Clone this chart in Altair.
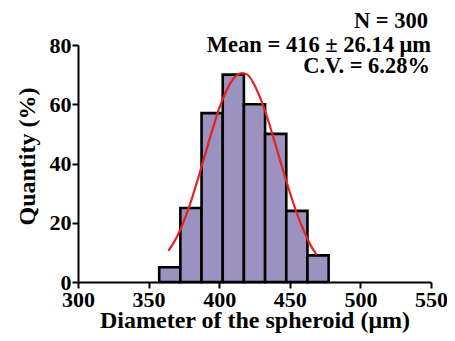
import altair as alt
import pandas as pd

# Histogram bins (centres, µm) and quantities (%)
bin_centers = [365, 380, 395, 410, 425, 440, 455, 470]
quantities = [5, 25, 57, 70, 60, 50, 24, 9]
bin_width = 15

# Fitted normal curve
curve_x = [364, 370, 375, 380, 385, 390, 395, 400, 405, 410, 416, 420, 425, 430, 435, 440, 445, 450, 455, 460, 465, 469]
curve_y = [10.5, 15.2, 20.6, 27.2, 34.9, 43.0, 51.1, 58.6, 64.5, 68.6, 70.5, 70.0, 66.4, 61.0, 54.1, 46.1, 38.1, 30.3, 23.2, 17.2, 12.2, 9.2]

annotations = ["N = 300", "Mean = 416 ± 26.14 μm", "C.V. = 6.28%"]

bars_df = pd.DataFrame({
    "start": [c - bin_width / 2 for c in bin_centers],
    "end": [c + bin_width / 2 for c in bin_centers],
    "q": quantities,
})
curve_df = pd.DataFrame({"x": curve_x, "y": curve_y})

FONT = "Liberation Serif"

xscale = alt.Scale(domain=[300, 550], nice=False)
yscale = alt.Scale(domain=[0, 80], nice=False)

W, H = 353, 237

bars = alt.Chart(bars_df).mark_rect(
    fill="#9b92bf", stroke="black", strokeWidth=2.6
).encode(
    x=alt.X("start:Q", scale=xscale,
            axis=alt.Axis(title="Diameter of the spheroid (μm)", values=[300, 350, 400, 450, 500, 550],
                          grid=False, labelFlush=False, labelPadding=1, titlePadding=-2)),
    x2="end:Q",
    y=alt.Y("q:Q", scale=yscale,
            axis=alt.Axis(title="Quantity (%)", values=[0, 20, 40, 60, 80], grid=False, labelFlush=False,
                          labelPadding=1, titlePadding=10, titleY=111)),
    y2=alt.datum(0),
)

curve = alt.Chart(curve_df).mark_line(
    color="#e8231f", strokeWidth=2.2, interpolate="monotone"
).encode(x="x:Q", y="y:Q")

ann_y = [-17, 6.5, 28]
ann_x = [W - 3, W, W - 1]
ann_layers = [
    alt.Chart(pd.DataFrame({"t": [t]})).mark_text(
        align="right", baseline="alphabetic", font=FONT, fontWeight="bold", fontSize=22.5, color="black"
    ).encode(text="t:N", x=alt.value(ann_x[i]), y=alt.value(ann_y[i]))
    for i, t in enumerate(annotations)
]

chart = alt.layer(bars, curve, *ann_layers).properties(
    width=W, height=H,
    autosize=alt.AutoSizeParams(type="none"),
    padding={"left": 70, "top": 37, "right": 439 - 70 - W, "bottom": 51},
).configure_view(stroke=None).configure_axis(
    domainColor="black", domainWidth=2, tickColor="black", tickWidth=2, tickSize=6,
    labelFont=FONT, labelFontWeight="bold", labelFontSize=22, labelColor="black",
    titleFont=FONT, titleFontWeight="bold", titleFontSize=24, titleColor="black",
)

chart.save("out.html", embed_options={"renderer": "svg", "actions": False})
